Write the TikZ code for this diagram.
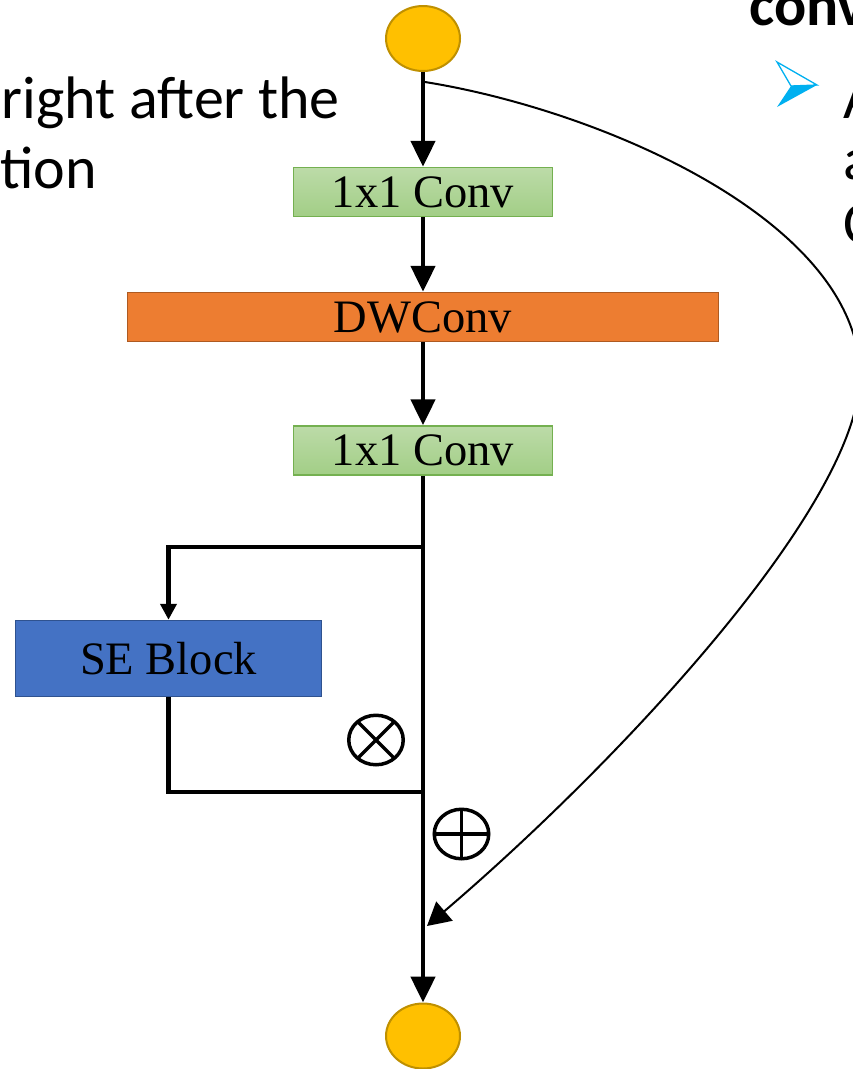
\documentclass[tikz,border=0pt]{standalone}
\usepackage{fontspec}
\setmainfont{Liberation Serif}
\newfontfamily\calibri{Carlito}
\usetikzlibrary{arrows.meta,shapes.geometric,calc}

\definecolor{portfill}{HTML}{FFC000}
\definecolor{portedge}{HTML}{BF9000}
\definecolor{convtop}{HTML}{BCDBA8}
\definecolor{convbot}{HTML}{A2CE86}
\definecolor{convedge}{HTML}{74B050}
\definecolor{dwfill}{HTML}{ED7D31}
\definecolor{dwedge}{HTML}{AE5A21}
\definecolor{sefill}{HTML}{4472C4}
\definecolor{seedge}{HTML}{2F528F}
\definecolor{bulletblue}{HTML}{00B0F0}

\begin{document}
\begin{tikzpicture}[x=1pt,y=-1pt,
  port/.style={ellipse, draw=portedge, fill=portfill, line width=2pt,
    minimum width=74pt, minimum height=65pt, inner sep=0pt},
  layer/.style={rectangle, inner sep=0pt, line width=1.5pt,
    font=\fontsize{46.5}{50}\selectfont},
  convbox/.style={layer, draw=convedge, top color=convtop, bottom color=convbot,
    minimum width=259pt, minimum height=49pt},
  flow/.style={line width=4.8pt, -{Triangle[length=26pt,width=24pt]}},
  branch/.style={line width=4.4pt},
  opsym/.style={ellipse, draw, line width=3.5pt, minimum width=54.5pt,
    minimum height=49.5pt, inner sep=0pt},
  slide/.style={inner sep=0pt, font=\calibri\fontsize{60}{72}\selectfont},
]
\useasboundingbox (0,0) rectangle (853,1069);
\clip (0,0) rectangle (853,1069);

% slide text around the block diagram
\node[slide, anchor=base east] (lineA) at (340,118) {right after the};
\node[slide, anchor=base west] (lineB) at (0,188) {tion};
\node[slide, anchor=base west, font=\calibri\bfseries\fontsize{60}{72}\selectfont] (head) at (749,25) {conv};
\fill[bulletblue] (791,86) -- (817,85) -- (777,107) -- cycle;
\draw[bulletblue, line width=1.3pt, line join=miter] (777,62) -- (817,85) -- (791,86) -- cycle;
\node[slide, anchor=base west] (bulA) at (843,118) {A};
\node[slide, anchor=base west] (bulB) at (843,179) {a};
\node[slide, anchor=base west] (bulC) at (843,243) {C};

% blocks
\node[port] (in) at (423,38.5) {};
\node[convbox] (c1) at (423,192) {1x1 Conv};
\node[layer, draw=dwedge, fill=dwfill, minimum width=591pt, minimum height=49pt] (dw) at (423,317) {DWConv};
\node[convbox] (c2) at (423,450.5) {1x1 Conv};
\node[layer, draw=seedge, fill=sefill, minimum width=306pt, minimum height=76pt] (se) at (168.5,658.5) {SE Block};
\node[port] (out) at (423,1036) {};

% operators
\node[opsym, path picture={
  \draw[line width=3.5pt] ($(path picture bounding box.center)+(-30,-30)$) -- ($(path picture bounding box.center)+(30,30)$);
  \draw[line width=3.5pt] ($(path picture bounding box.center)+(-30,30)$) -- ($(path picture bounding box.center)+(30,-30)$);
}] (mul) at (376,740) {};
\node[opsym, path picture={
  \draw[line width=3.5pt] (path picture bounding box.north) -- (path picture bounding box.south);
  \draw[line width=3.5pt] (path picture bounding box.west) -- (path picture bounding box.east);
}] (add) at (461.5,834) {};

% main path
\draw[flow] (in) -- (c1);
\draw[flow] (c1) -- (dw);
\draw[flow] (dw) -- (c2);
\draw[flow] (c2) -- (out);

% squeeze-and-excitation branch
\coordinate (split) at (423,547);
\coordinate (merge) at (423,792);
\draw[branch, -{Triangle[length=16pt,width=16pt]}] (split) -| (se.north);
\draw[branch] (se.south) |- (merge);

% residual connection
\coordinate (skipstart) at (425,82);
\coordinate (skipend) at (427,926);
\draw[line width=2pt, -{Triangle[length=23pt,width=25pt]}]
  (skipstart) .. controls (600,110) and (858,220) .. (860,375)
  .. controls (860,505) and (618,763) .. (skipend);
\end{tikzpicture}
\end{document}
